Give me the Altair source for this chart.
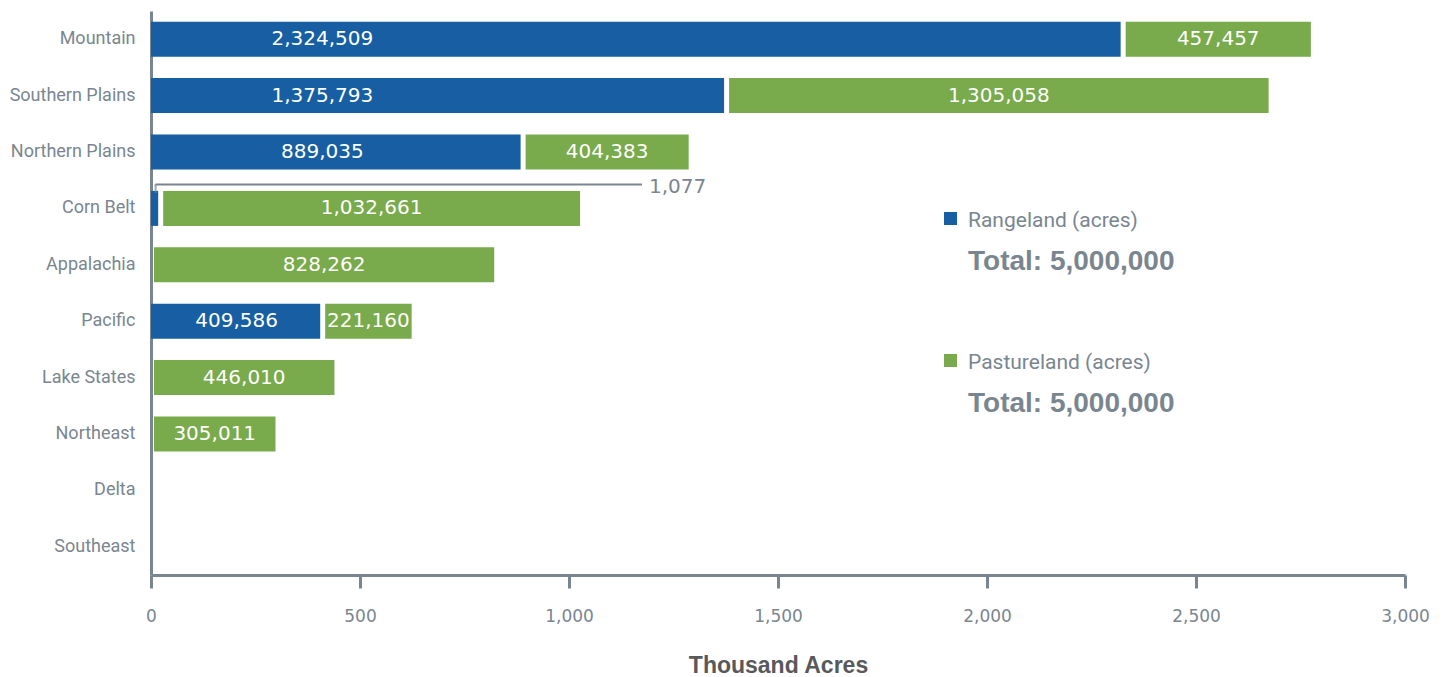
import altair as alt
import pandas as pd

regions = ["Mountain", "Southern Plains", "Northern Plains", "Corn Belt", "Appalachia",
           "Pacific", "Lake States", "Northeast", "Delta", "Southeast"]
rangeland = [2324509, 1375793, 889035, 1077, 0, 409586, 0, 0, 0, 0]
pastureland = [457457, 1305058, 404383, 1032661, 828262, 221160, 446010, 305011, 0, 0]
series_names = ["Rangeland", "Pastureland"]
legend_labels = ["Rangeland (acres)", "Pastureland (acres)"]
legend_totals = ["Total: 5,000,000", "Total: 5,000,000"]
x_ticks = [0, 500, 1000, 1500, 2000, 2500, 3000]

BLUE = "#175FA2"
GREEN = "#79AA4B"
GRAY = "#7A868F"
DARK = "#58595B"
NUM_FONT = "DejaVu Sans"
LAB_FONT = "Roboto"

df = pd.DataFrame({"region": regions, "range": rangeland, "pasture": pastureland})

x_scale = alt.Scale(domain=[0, 3000], nice=False)
y_scale = alt.Scale(domain=regions, paddingInner=0.38, paddingOuter=0.19)
y_axis = alt.Axis(title=None, ticks=False, domainColor=GRAY, domainWidth=3,
                  labelFont=LAB_FONT, labelFontSize=18, labelColor=GRAY,
                  labelPadding=16)
x_axis = alt.Axis(values=x_ticks, format=",.0f", grid=False, domainColor=GRAY, domainWidth=3,
                  tickColor=GRAY, tickWidth=3, tickSize=13, labelFont=NUM_FONT,
                  labelFontSize=17, labelColor=GRAY, labelPadding=20, labelFlush=False,
                  title="Thousand Acres", titleFont="Liberation Sans", titleFontWeight="bold",
                  titleFontSize=23, titleColor=DARK, titlePadding=30)


def X(field):
    return alt.X(field, type="quantitative", scale=x_scale, axis=x_axis)


def Y():
    return alt.Y("region:N", scale=y_scale, axis=y_axis)


base = alt.Chart(df).transform_calculate(
    zero="0",
    r_disp="datum.range > 0 ? max(datum.range / 1000, 22) : 0",
    total_k="(datum.range + datum.pasture) / 1000",
    r_lab="min(datum.r_disp / 2, 410)",
    r_mid="datum.r_disp / 2",
    p_lab="(datum.r_disp + datum.total_k) / 2",
)

blue_bars = base.transform_filter("datum.range > 0").mark_bar(
    color=BLUE, x2Offset=-2
).encode(x=X("zero"), x2="r_disp:Q", y=Y())

green_bars = base.transform_filter("datum.pasture > 0").mark_bar(
    color=GREEN, xOffset=3, x2Offset=-3
).encode(x=X("r_disp"), x2="total_k:Q", y=Y())

blue_text = base.transform_filter("datum.range >= 100000").mark_text(
    color="white", font=NUM_FONT, fontSize=20, align="center", baseline="middle"
).encode(x=X("r_lab"), y=Y(), text=alt.Text("range:Q", format=","))

green_text = base.transform_filter("datum.pasture > 0").mark_text(
    color="white", font=NUM_FONT, fontSize=20, align="center", baseline="middle"
).encode(x=X("p_lab"), y=Y(), text=alt.Text("pasture:Q", format=","))

small = base.transform_filter("datum.range > 0 && datum.range < 100000")
callout_v = small.mark_tick(orient="vertical", size=9, thickness=2, yOffset=-20, color=GRAY).encode(
    x=X("r_mid"), y=Y())
callout_h = small.mark_rule(strokeWidth=2, yOffset=-24, color=GRAY).encode(
    x=X("r_mid"), x2=alt.value(491), y=Y())
callout_t = small.mark_text(font=NUM_FONT, fontSize=20, color=GRAY, align="left",
                            baseline="middle", yOffset=-21).encode(
    x=alt.value(498), y=Y(), text=alt.Text("range:Q", format=","))

leg_df = pd.DataFrame({"series": series_names, "label": legend_labels, "total": legend_totals})
legend_layers = []
for i, (name, col) in enumerate(zip(series_names, [BLUE, GREEN])):
    d = alt.Chart(leg_df).transform_filter(alt.datum.series == name)
    dy = i * 142
    legend_layers.append(d.mark_point(shape="square", filled=True, size=169, opacity=1, color=col).encode(
        x=alt.value(799.5), y=alt.value(207.5 + dy)))
    legend_layers.append(d.mark_text(font=LAB_FONT, fontSize=21, color=GRAY, align="left",
                                     baseline="middle").encode(
        x=alt.value(817), y=alt.value(210 + dy), text="label:N"))
    legend_layers.append(d.mark_text(font="Liberation Sans", fontWeight="bold", fontSize=28,
                                     color=GRAY, align="left", baseline="middle").encode(
        x=alt.value(817), y=alt.value(251 + dy), text="total:N"))

chart = alt.layer(
    blue_bars, green_bars, blue_text, green_text, callout_v, callout_h, callout_t, *legend_layers
).properties(
    width=1254, height=564,
    padding={"top": 3, "left": 1, "right": 5, "bottom": 5},
    background="white",
).configure_view(stroke=None)

chart.save("out.html", embed_options={"renderer": "svg", "actions": False})
